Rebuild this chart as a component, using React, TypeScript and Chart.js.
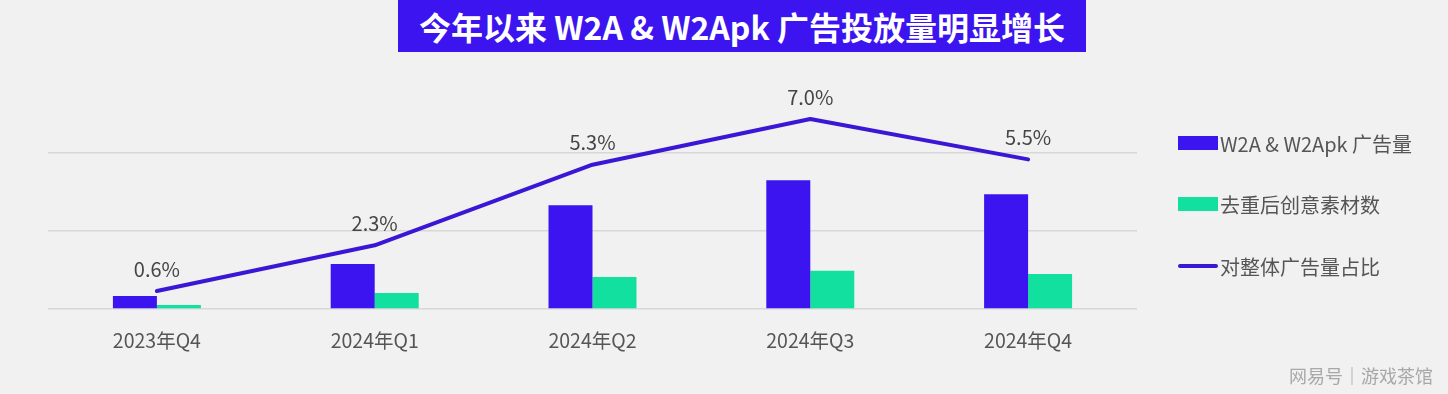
import React, { useEffect, useRef } from "react";
import { Chart, registerables } from "chart.js";

Chart.register(...registerables);

const categories = ["2023年Q4", "2024年Q1", "2024年Q2", "2024年Q3", "2024年Q4"];
const adVolume = [16.7, 57.7, 133, 165, 147];
const creatives = [5, 20.5, 41, 49, 45];
const sharePct = [0.6, 2.3, 5.3, 7.0, 5.5];
const legendLabels = ["W2A & W2Apk 广告量", "去重后创意素材数", "对整体广告量占比"];
const titleText = "今年以来 W2A & W2Apk 广告投放量明显增长";
const watermark = "网易号｜游戏茶馆";

const FONT = "'Noto Sans CJK SC', 'Noto Sans', sans-serif";
const BLUE = "#3b14ef";
const LINE = "#3a17d4";
const GREEN = "#11e09f";
const BG = "#f2f1f2";

const labelPlugin = {
  id: "pctLabels",
  afterDatasetsDraw(chart: any) {
    const meta = chart.getDatasetMeta(2);
    const ctx = chart.ctx;
    ctx.save();
    ctx.font = `20px ${FONT}`;
    ctx.fillStyle = "#454545";
    ctx.textAlign = "center";
    ctx.textBaseline = "middle";
    meta.data.forEach((pt: any, i: number) => {
      ctx.fillText(sharePct[i].toFixed(1) + "%", pt.x, pt.y - 22);
    });
    ctx.restore();
  },
};

export default function App() {
  const ref = useRef<HTMLCanvasElement>(null);
  useEffect(() => {
    document.body.style.margin = "0";
    document.body.style.background = BG;
    const chart = new Chart(ref.current!, {
      type: "bar",
      data: {
        labels: categories,
        datasets: [
          {
            type: "bar",
            label: legendLabels[0],
            data: adVolume,
            backgroundColor: BLUE,
            yAxisID: "y",
            categoryPercentage: 0.404,
            barPercentage: 1.0,
            order: 2,
          },
          {
            type: "bar",
            label: legendLabels[1],
            data: creatives,
            backgroundColor: GREEN,
            yAxisID: "y",
            categoryPercentage: 0.404,
            barPercentage: 1.0,
            order: 2,
          },
          {
            type: "line",
            label: legendLabels[2],
            data: sharePct,
            borderColor: LINE,
            borderWidth: 4,
            pointRadius: 0,
            borderCapStyle: "round",
            borderJoinStyle: "round",
            tension: 0,
            yAxisID: "y1",
            order: 1,
          } as any,
        ],
      },
      options: {
        animation: false,
        responsive: false,
        maintainAspectRatio: false,
        layout: { padding: { left: 48, right: 311, top: 75, bottom: 0 } },
        plugins: {
          legend: { display: false },
          tooltip: { enabled: false },
          title: { display: false },
        },
        scales: {
          x: {
            grid: { display: false, drawTicks: false },
            border: { display: false },
            ticks: {
              color: "#555555",
              font: { family: FONT, size: 19.5 },
              padding: 20,
            },
            afterFit: (s: any) => {
              s.height = 85;
            },
          },
          y: {
            min: 0,
            max: 300,
            position: "left",
            ticks: { display: false, stepSize: 100 },
            grid: {
              drawTicks: false,
              lineWidth: 1.5,
              color: (c: any) => (c.tick && c.tick.value === 300 ? "rgba(0,0,0,0)" : "#d8d8d8"),
            },
            border: { display: false },
            afterFit: (s: any) => {
              s.width = 0;
            },
          },
          y1: {
            display: false,
            min: -0.07,
            max: 8.64,
            position: "right",
          },
        },
      },
      plugins: [labelPlugin],
    });
    return () => chart.destroy();
  }, []);

  const legendItem = (i: number, top: number) => (
    <div
      key={i}
      style={{
        position: "absolute",
        left: 1178,
        top: top - 14,
        height: 28,
        display: "flex",
        alignItems: "center",
        fontFamily: FONT,
        fontSize: 20,
        color: "#555555",
        whiteSpace: "nowrap",
      }}
    >
      {i < 2 ? (
        <span style={{ display: "inline-block", width: 40, height: 14, background: i === 0 ? BLUE : GREEN, marginRight: 2 }} />
      ) : (
        <span style={{ display: "inline-block", width: 40, height: 4, borderRadius: 2, background: LINE, marginRight: 2 }} />
      )}
      <span>{legendLabels[i]}</span>
    </div>
  );

  return (
    <div style={{ position: "fixed", left: 0, top: 0, width: 1448, height: 394, background: BG, overflow: "hidden" }}>
      <canvas ref={ref} width={1448} height={394} style={{ position: "absolute", left: 0, top: 0, width: 1448, height: 394 }} />
      <div
        style={{
          position: "absolute",
          left: 398,
          top: 0,
          width: 688,
          height: 52,
          background: BLUE,
          color: "#ffffff",
          fontFamily: FONT,
          fontWeight: 700,
          fontSize: 32,
          display: "flex",
          alignItems: "center",
          justifyContent: "center",
          whiteSpace: "nowrap",
        }}
      >
        {titleText}
      </div>
      {legendItem(0, 143)}
      {legendItem(1, 204)}
      {legendItem(2, 266)}
      <div
        style={{
          position: "absolute",
          left: 1289,
          top: 362,
          fontFamily: FONT,
          fontSize: 18,
          color: "#a8a8a8",
          whiteSpace: "nowrap",
        }}
      >
        {watermark}
      </div>
    </div>
  );
}
